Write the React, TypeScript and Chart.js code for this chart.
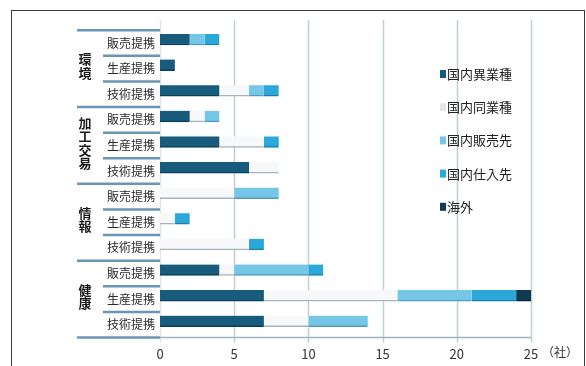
import React, { useEffect, useRef } from 'react';
import { Chart, registerables } from 'chart.js';

Chart.register(...registerables);

// Fields and alliance types (rows are fields × types, top to bottom)
const groups = ['環境', '加工交易', '情報', '健康'];
const items = ['販売提携', '生産提携', '技術提携'];
const rows = groups.flatMap(() => items);

// Number of companies by partner type
const seriesNames = ['国内異業種', '国内同業種', '国内販売先', '国内仕入先', '海外'];
const otherIndustry = [2, 1, 4, 2, 4, 6, 0, 0, 0, 4, 7, 7];
const sameIndustry = [0, 0, 2, 1, 3, 2, 5, 1, 6, 1, 9, 3];
const salesPartner = [1, 0, 1, 1, 0, 0, 3, 0, 0, 5, 5, 4];
const supplier = [1, 0, 1, 0, 1, 0, 0, 1, 1, 1, 3, 0];
const overseas = [0, 0, 0, 0, 0, 0, 0, 0, 0, 0, 1, 0];

const xMin = 0;
const xMax = 25;
const xStep = 5;
const unitLabel = '（社）';

const fills = ['#175b7d', '#f6f8f9', '#76c6e8', '#2aa8da', '#0e3b52'];
const edges = ['#0b3e58', '#a7b4bb', '#4f9dc0', '#1a7fab', '#06283a'];
const swatches = ['#175b7d', '#e6e8e9', '#76c6e8', '#2aa8da', '#0e3b52'];

const FONT = "'Noto Sans CJK JP', 'Noto Sans', sans-serif";

const decor = {
  id: 'decor',
  beforeDraw(chart: any) {
    const { ctx, width, height } = chart;
    ctx.save();
    ctx.fillStyle = '#ffffff';
    ctx.fillRect(0, 0, width, height);
    ctx.strokeStyle = '#3c3c3c';
    ctx.lineWidth = 1;
    ctx.strokeRect(11.5, 10.5, width - 13, height + 20);
    ctx.restore();
  },
  beforeDatasetsDraw(chart: any) {
    const { ctx } = chart;
    const x = chart.scales.x;
    const y = chart.scales.y;
    const x0 = x.getPixelForValue(xMin);
    const xEnd = x.getPixelForValue(xMax);
    const h = y.getPixelForValue(1) - y.getPixelForValue(0);
    const boundary = (k: number) => y.getPixelForValue(k) - h / 2 + 3.5;
    ctx.save();

    // vertical grid lines
    for (let v = xMin; v <= xMax; v += xStep) {
      const px = Math.round(x.getPixelForValue(v)) + 0.5;
      ctx.strokeStyle = v === xMin ? '#dde5e9' : '#c3ced4';
      ctx.lineWidth = 1.5;
      ctx.beginPath();
      ctx.moveTo(px, 20);
      ctx.lineTo(px, boundary(rows.length) + 5);
      ctx.stroke();
    }

    // row separators on the category side
    for (let k = 0; k <= rows.length; k++) {
      const py = boundary(k);
      const long = k % items.length === 0;
      ctx.strokeStyle = '#6a96b1';
      ctx.lineWidth = 2.5;
      ctx.beginPath();
      ctx.moveTo(long ? 77 : 103, py);
      ctx.lineTo(x0, py);
      ctx.stroke();
    }
    // baseline under the bars
    const by = boundary(rows.length);
    ctx.strokeStyle = '#9fb4c1';
    ctx.lineWidth = 1.5;
    ctx.beginPath();
    ctx.moveTo(x0, by);
    ctx.lineTo(xEnd, by);
    ctx.stroke();
    ctx.restore();
  },
  afterDraw(chart: any) {
    const { ctx } = chart;
    const y = chart.scales.y;
    ctx.save();

    // type labels
    ctx.fillStyle = '#2a2a2a';
    ctx.font = `12px ${FONT}`;
    ctx.textAlign = 'right';
    ctx.textBaseline = 'middle';
    rows.forEach((label, i) => {
      ctx.fillText(label, 155, y.getPixelForValue(i) + 3.5);
    });

    // field labels, stacked vertically
    ctx.fillStyle = '#1a1a1a';
    ctx.font = `bold 13px ${FONT}`;
    ctx.textAlign = 'center';
    groups.forEach((g, gi) => {
      const chars = Array.from(g);
      const cy = y.getPixelForValue(gi * items.length + 1) + 1;
      const pitch = 13.5;
      chars.forEach((c, ci) => {
        ctx.fillText(c, 85, cy + (ci - (chars.length - 1) / 2) * pitch);
      });
    });

    // legend
    ctx.textAlign = 'left';
    ctx.font = `13px ${FONT}`;
    chart.data.datasets.forEach((ds: any, i: number) => {
      const cy = 74 + i * 33.2;
      ctx.fillStyle = swatches[i];
      ctx.fillRect(440, cy - 4, 6, 8);
      ctx.fillStyle = '#222222';
      ctx.fillText(ds.label, 447, cy);
    });

    // unit
    ctx.fillStyle = '#333333';
    ctx.font = `12px ${FONT}`;
    ctx.textAlign = 'center';
    ctx.fillText(unitLabel, 560, 352);
    ctx.restore();
  },
};

export default function App() {
  const ref = useRef<HTMLCanvasElement>(null);

  useEffect(() => {
    if (!ref.current) return;
    const values = [otherIndustry, sameIndustry, salesPartner, supplier, overseas];
    const chart = new Chart(ref.current, {
      type: 'bar',
      data: {
        labels: rows,
        datasets: seriesNames.map((name, i) => ({
          label: name,
          data: values[i],
          backgroundColor: fills[i],
          borderColor: edges[i],
          borderWidth: { top: 0, right: 0, bottom: 1.5, left: 0 },
          borderSkipped: false,
          barThickness: 11,
        })),
      },
      options: {
        indexAxis: 'y',
        responsive: false,
        animation: false,
        layout: { padding: { left: 160, right: 55, top: 26.7, bottom: 0 } },
        plugins: { legend: { display: false }, tooltip: { enabled: false } },
        scales: {
          x: {
            stacked: true,
            min: xMin,
            max: xMax,
            grid: { display: false },
            border: { display: false },
            ticks: {
              stepSize: xStep,
              padding: 4,
              color: '#333333',
              font: { family: FONT, size: 13 },
            },
            afterFit: (scale: any) => {
              scale.height = 32;
            },
          },
          y: {
            stacked: true,
            display: false,
          },
        },
      },
      plugins: [decor],
    });
    return () => chart.destroy();
  }, []);

  return (
    <div style={{ position: 'absolute', left: 0, top: 0, width: 586, height: 366 }}>
      <canvas ref={ref} width={586} height={366} />
    </div>
  );
}
